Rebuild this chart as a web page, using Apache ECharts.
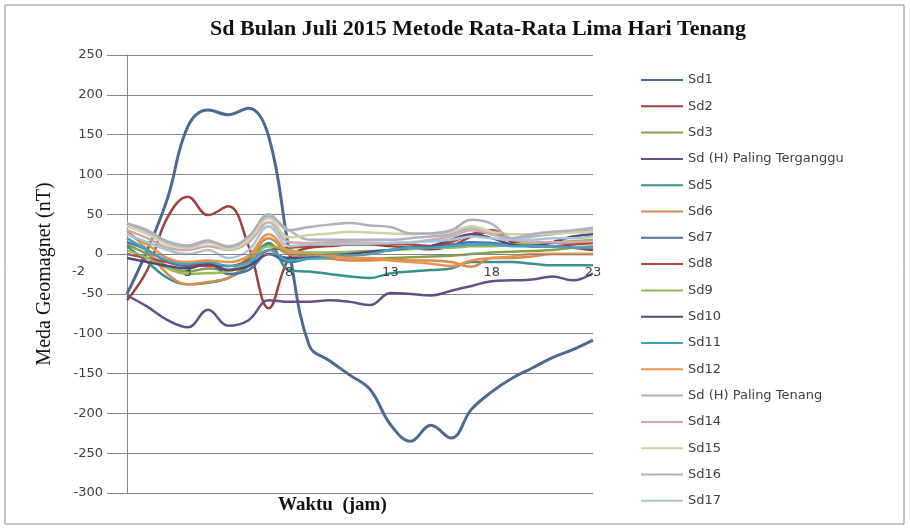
<!DOCTYPE html>
<html>
<head>
<meta charset="utf-8">
<title>Sd Bulan Juli 2015</title>
<script src="https://cdn.jsdelivr.net/npm/echarts@6/dist/echarts.min.js"></script>
<style>
  html, body { margin: 0; padding: 0; background: #fff; }
  #chart { width: 910px; height: 532px; }
</style>
</head>
<body>
<div id="chart"></div>
<script>
// jam 0..23
const hours = ['0', '1', '2', '3', '4', '5', '6', '7', '8', '9', '10', '11',
  '12', '13', '14', '15', '16', '17', '18', '19', '20', '21', '22', '23']

const seriesNames = ['Sd1', 'Sd2', 'Sd3', 'Sd (H) Paling Terganggu', 'Sd5', 'Sd6', 'Sd7', 'Sd8',
  'Sd9', 'Sd10', 'Sd11', 'Sd12', 'Sd (H) Paling Tenang', 'Sd14', 'Sd15', 'Sd16', 'Sd17']

const colors = ['#4a6a94', '#a0403e', '#86a04e', '#654f88', '#35948f', '#d98b4d', '#4f72a8', '#b8433f',
  '#97b957', '#594878', '#3fa3c4', '#e8944e', '#aeb2c4', '#d4a9ab', '#cdd5a6', '#b2aebd', '#a4c6d6']

const sd1 = [-50, 5, 70, 160, 181, 175, 183, 147, 5, -115, -134, -152, -170, -214, -235, -215, -231, -195, -173, -156, -143, -130, -120, -108]
const sd2 = [-58, -20, 46, 72, 49, 60, 10, -68, -5, 8, 10, 12, 12, 10, 8, 6, 10, 22, 28, 15, 10, 10, 8, 5]
const sd3 = [12, 0, -15, -22, -18, -20, -5, 12, 0, -2, -3, -5, -6, -5, -4, -3, -2, 0, 2, 3, 4, 5, 8, 10]
const sd4 = [-52, -66, -83, -92, -70, -90, -83, -58, -60, -60, -58, -60, -64, -49, -50, -52, -46, -40, -34, -33, -32, -28, -33, -24]
const sd5 = [10, -10, -30, -38, -36, -30, -15, 14, -20, -22, -25, -28, -30, -24, -22, -20, -18, -10, -10, -10, -12, -14, -14, -14]
const sd6 = [30, 5, -25, -38, -35, -30, -10, 20, 0, -5, -6, -8, -8, -7, -8, -8, -10, -16, -5, -5, -3, 0, 0, 0]
const sd7 = [15, 5, -10, -15, -12, -25, -20, 0, -10, -5, 0, 2, 3, 5, 8, 10, 12, 15, 14, 12, 12, 14, 15, 15]
const sd8 = [0, -5, -10, -12, -15, -15, -8, 5, 8, 10, 12, 14, 14, 13, 12, 10, 15, 25, 30, 18, 10, 10, 12, 14]
const sd9 = [5, -5, -18, -25, -24, -22, -10, 10, 5, 2, 2, 3, 4, 5, 6, 8, 8, 10, 10, 12, 14, 15, 16, 18]
const sd10 = [-5, -10, -15, -18, -12, -20, -15, 0, -5, -5, -3, 0, 3, 5, 8, 10, 18, 25, 20, 12, 10, 15, 22, 25]
const sd11 = [20, 5, -8, -12, -10, -15, -10, 5, -8, -6, -4, -2, 0, 5, 8, 8, 10, 12, 12, 10, 10, 10, 8, 8]
const sd12 = [25, 12, -5, -10, -8, -10, -2, 25, 3, 0, -2, -5, -5, -8, -10, -12, -15, -8, -5, -3, 0, 0, 0, 0]
const sd13 = [39, 28, 16, 11, 17, 8, 20, 47, 30, 18, 18, 18, 18, 18, 20, 22, 25, 33, 25, 20, 22, 25, 28, 30]
const sd14 = [30, 20, 8, 5, 10, 5, 15, 40, 15, 14, 15, 15, 14, 14, 15, 18, 22, 30, 25, 18, 15, 15, 15, 16]
const sd15 = [35, 25, 12, 8, 14, 6, 18, 45, 21, 24, 26, 28, 27, 26, 25, 26, 28, 35, 28, 25, 25, 26, 27, 28]
const sd16 = [38, 30, 15, 10, 16, 10, 22, 50, 30, 34, 37, 39, 36, 34, 26, 26, 30, 43, 38, 20, 25, 28, 30, 33]
const sd17 = [25, 15, 5, 0, 5, -5, 5, 35, 10, 12, 12, 13, 13, 14, 15, 16, 18, 22, 20, 18, 18, 20, 20, 22]

const allData = [sd1, sd2, sd3, sd4, sd5, sd6, sd7, sd8, sd9, sd10, sd11, sd12, sd13, sd14, sd15, sd16, sd17]

const yMin = -300
const yMax = 250
const gridTop = 55
const gridBottom = 39
// the x axis crosses the value axis at 0
const plotH = 532 - gridTop - gridBottom
const zeroOffset = -(plotH * (0 - yMin) / (yMax - yMin))

const chart = echarts.init(document.getElementById('chart'))

const series = seriesNames.map((name, i) => ({
  name: name,
  type: 'line',
  data: allData[i],
  smooth: 0.4,
  showSymbol: false,
  itemStyle: { color: colors[i] },
  lineStyle: { color: colors[i], width: i === 0 ? 3 : 2.5 }
}))

const option = {
  animation: false,
  backgroundColor: '#fff',
  title: {
    text: 'Sd Bulan Juli 2015 Metode Rata-Rata Lima Hari Tenang',
    left: 473,
    textAlign: 'center',
    top: 13,
    textStyle: {
      fontFamily: 'Liberation Serif',
      fontWeight: 'bold',
      fontSize: 22,
      color: '#111'
    }
  },
  grid: {
    left: 127,
    right: 317,
    top: gridTop,
    bottom: gridBottom
  },
  legend: {
    orient: 'vertical',
    left: 636,
    top: 68,
    icon: 'rect',
    itemWidth: 42,
    itemHeight: 2,
    itemGap: 12.3,
    data: seriesNames,
    textStyle: {
      fontFamily: 'DejaVu Sans',
      fontSize: 13,
      lineHeight: 14,
      color: '#404040'
    }
  },
  xAxis: {
    type: 'category',
    data: hours,
    boundaryGap: false,
    position: 'bottom',
    offset: zeroOffset,
    z: 5,
    axisLine: { onZero: false, lineStyle: { color: '#868686' } },
    axisTick: { show: false },
    axisLabel: {
      interval: (idx) => idx >= 3 && (idx - 3) % 5 === 0,
      margin: 12,
      fontFamily: 'DejaVu Sans',
      fontSize: 13,
      color: '#404040'
    },
    splitLine: { show: false }
  },
  yAxis: {
    type: 'value',
    min: yMin,
    max: yMax,
    interval: 50,
    name: 'Meda Geomagnet (nT)',
    nameLocation: 'middle',
    nameGap: 72,
    nameTextStyle: {
      fontFamily: 'Liberation Serif',
      fontSize: 20,
      color: '#111'
    },
    axisLine: { show: true, lineStyle: { color: '#868686' } },
    axisTick: { show: true, length: 20, lineStyle: { color: '#868686' } },
    axisLabel: {
      margin: 24,
      fontFamily: 'DejaVu Sans',
      fontSize: 13,
      color: '#404040'
    },
    splitLine: { lineStyle: { color: '#868686', width: 1 } }
  },
  graphic: [
    {
      type: 'rect',
      shape: { x: 5, y: 5, width: 899, height: 519 },
      style: { fill: 'none', stroke: '#8c8c8c', lineWidth: 1 },
      silent: true
    },
    {
      type: 'text',
      left: 278,
      top: 496,
      style: {
        text: 'Waktu  (jam)',
        font: 'bold 19px "Liberation Serif"',
        fill: '#111'
      }
    },
    {
      type: 'text',
      left: 72,
      top: 265,
      style: {
        text: '-2',
        font: '13px "DejaVu Sans"',
        fill: '#404040'
      }
    }
  ],
  series: series
}

chart.setOption(option)
</script>
</body>
</html>
